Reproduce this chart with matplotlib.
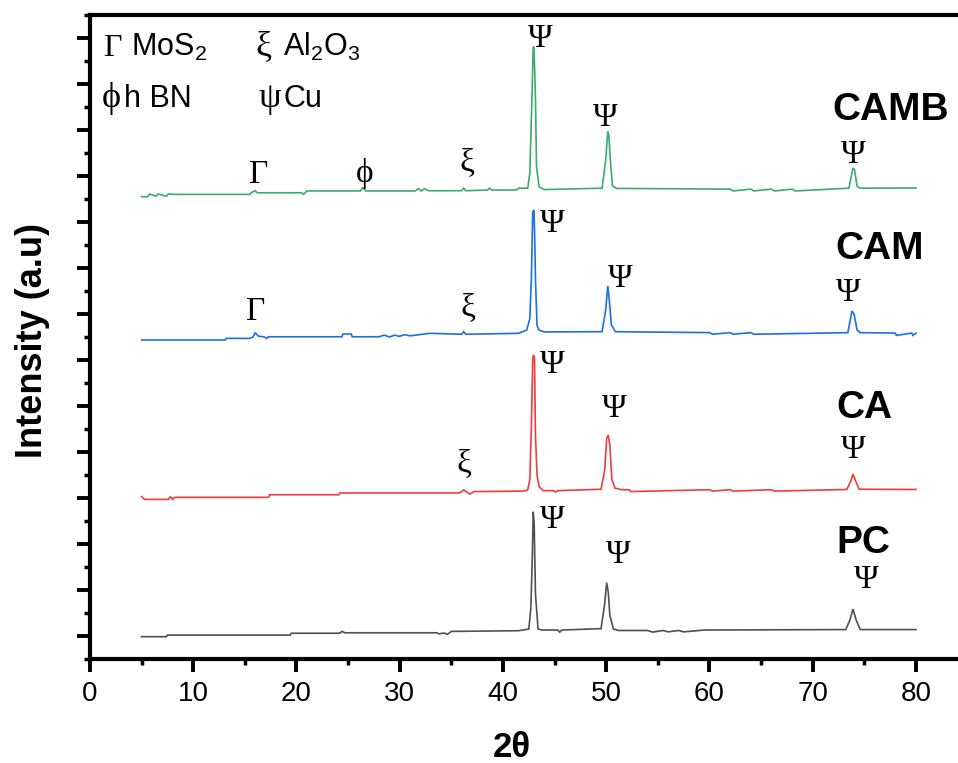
import matplotlib
matplotlib.use("Agg")
import matplotlib.pyplot as plt
import matplotlib.font_manager as fm
from matplotlib.ticker import MultipleLocator, NullFormatter

# ---------------- data (2θ in degrees, intensity in a.u.) ----------------
PC_x = [5.0, 7.4, 7.5, 19.4, 19.5, 24.2, 24.4, 24.7, 33.6, 33.8, 34.3, 34.6, 35.0, 41.5, 42.5,
        42.7, 42.85, 42.93, 43.02, 43.15, 43.4, 43.8, 45.3, 45.5, 45.7, 49.5, 49.85, 50.04, 50.2,
        50.35, 50.7, 51.2, 54.0, 54.5, 55.5, 56.0, 57.0, 57.5, 59.5, 73.2, 73.6, 73.9, 74.2, 74.6, 80.0]
PC_y = [0.97, 0.97, 1.04, 1.04, 1.12, 1.12, 1.20, 1.14, 1.14, 1.09, 1.13, 1.07, 1.20, 1.23, 1.30,
        2.20, 4.60, 6.40, 5.90, 2.80, 1.30, 1.26, 1.26, 1.17, 1.26, 1.32, 2.40, 3.32, 2.90,
        1.90, 1.30, 1.24, 1.24, 1.17, 1.24, 1.18, 1.24, 1.18, 1.26, 1.28, 1.70, 2.17, 1.70, 1.28, 1.28]

CA_x = [5.0, 5.3, 7.6, 7.8, 8.0, 8.2, 17.3, 17.4, 24.1, 24.2, 35.8, 36.2, 36.6, 36.8, 37.2, 42.0,
        42.4, 42.6, 42.75, 42.88, 42.95, 43.05, 43.15, 43.3, 43.5, 43.9, 44.9, 45.1, 45.3, 49.5,
        49.85, 50.05, 50.2, 50.35, 50.55, 50.85, 51.5, 52.2, 52.4, 60.0, 60.3, 62.0, 62.3, 66.0,
        66.3, 73.3, 73.7, 73.9, 74.1, 74.5, 80.0]
CA_y = [7.06, 6.94, 6.94, 7.06, 6.94, 7.03, 7.03, 7.14, 7.14, 7.22, 7.22, 7.35, 7.22, 7.17, 7.28, 7.30,
        7.35, 7.80, 10.1, 13.0, 13.22, 13.1, 9.7, 8.0, 7.49, 7.32, 7.32, 7.26, 7.32, 7.38,
        8.2, 9.6, 9.74, 9.3, 7.8, 7.43, 7.36, 7.36, 7.28, 7.36, 7.30, 7.36, 7.30, 7.36,
        7.30, 7.37, 7.75, 8.04, 7.8, 7.38, 7.37]

CAM_x = [5.0, 13.1, 13.2, 15.5, 15.8, 16.0, 16.3, 16.9, 17.1, 17.3, 24.4, 24.5, 25.3, 25.4, 28.0,
         28.5, 29.0, 29.5, 30.0, 30.5, 31.0, 32.9, 36.0, 36.2, 36.4, 41.5, 42.3, 42.6, 42.75, 42.88,
         43.0, 43.08, 43.15, 43.3, 43.5, 44.0, 49.6, 49.95, 50.15, 50.3, 50.5, 50.9, 60.0, 60.3,
         62.0, 62.3, 64.0, 64.3, 73.4, 73.8, 74.0, 74.3, 74.6, 78.0, 78.1, 79.6, 79.7, 80.0]
CAM_y = [13.87, 13.87, 13.94, 13.94, 14.0, 14.19, 14.04, 14.0, 13.94, 14.01, 14.01, 14.13, 14.13, 14.01, 14.01,
         14.08, 14.0, 14.08, 14.03, 14.1, 14.05, 14.16, 14.12, 14.23, 14.12, 14.16, 14.30, 14.8, 16.48, 19.43,
         19.52, 18.2, 16.48, 14.5, 14.3, 14.22, 14.23, 15.17, 16.22, 15.6, 14.52, 14.23, 14.19, 14.12,
         14.19, 14.12, 14.19, 14.12, 14.19, 15.13, 15.0, 14.3, 14.19, 14.17, 14.07, 14.17, 14.07, 14.17]

CAMB_x = [5.0, 5.6, 5.8, 6.4, 6.6, 7.4, 7.6, 8.2, 15.5, 15.6, 16.0, 16.2, 16.4, 20.5, 20.7, 21.0,
          26.2, 26.4, 26.7, 31.5, 31.8, 32.1, 32.4, 32.8, 36.0, 36.2, 36.4, 38.5, 38.7, 38.9, 41.3,
          41.5, 42.4, 42.6, 42.8, 42.93, 43.0, 43.08, 43.15, 43.25, 43.5, 44.0, 49.6, 49.95, 50.15,
          50.25, 50.4, 50.6, 51.0, 62.0, 62.3, 64.0, 64.3, 66.0, 66.3, 68.0, 68.3, 73.5, 73.9, 74.05,
          74.3, 74.6, 80.0]
CAMB_y = [20.10, 20.10, 20.22, 20.12, 20.22, 20.12, 20.22, 20.20, 20.20, 20.27, 20.36, 20.27, 20.27, 20.27, 20.20, 20.35,
          20.35, 20.50, 20.35, 20.35, 20.45, 20.35, 20.45, 20.36, 20.36, 20.47, 20.36, 20.39, 20.47, 20.39, 20.39,
          20.47, 20.47, 21.13, 24.3, 26.62, 26.6, 25.48, 24.3, 21.4, 20.53, 20.41, 20.47, 21.7, 22.93,
          22.78, 21.7, 20.57, 20.46, 20.43, 20.35, 20.43, 20.35, 20.43, 20.35, 20.43, 20.35, 20.47, 21.35, 21.27,
          20.55, 20.47, 20.48]

sample_names = ["PC", "CA", "CAM", "CAMB"]
x_ticks = [0, 10, 20, 30, 40, 50, 60, 70, 80]

# peak markers: (symbol, x, y) per sample
marks_PC = [("Ψ", 44.78, 5.70), ("Ψ", 51.17, 4.16), ("Ψ", 75.2, 3.09)]
marks_CA = [("ξ", 36.22, 8.15), ("Ψ", 44.78, 12.42), ("Ψ", 50.75, 10.51), ("Ψ", 73.9, 8.74)]
marks_CAM = [("Γ", 16.05, 14.74), ("ξ", 36.64, 14.9), ("Ψ", 44.8, 18.58), ("Ψ", 51.4, 16.19), ("Ψ", 73.4, 15.57)]
marks_CAMB = [("Γ", 16.37, 20.71), ("ϕ", 26.63, 20.75), ("ξ", 36.55, 21.2), ("Ψ", 43.6, 26.62),
              ("Ψ", 49.95, 23.17), ("Ψ", 73.9, 21.57)]

for xs, ys in [(PC_x, PC_y), (CA_x, CA_y), (CAM_x, CAM_y), (CAMB_x, CAMB_y)]:
    assert len(xs) == len(ys)

# ---------------- fonts ----------------
names = {f.name for f in fm.fontManager.ttflist}
SANS = "Liberation Sans" if "Liberation Sans" in names else "DejaVu Sans"
SERIF = "Liberation Serif" if "Liberation Serif" in names else "DejaVu Serif"
NARROW = "Liberation Sans Narrow" if "Liberation Sans Narrow" in names else SANS

plt.rcParams["font.family"] = [SANS, "DejaVu Sans"]
plt.rcParams["mathtext.fontset"] = "custom"
plt.rcParams["mathtext.rm"] = SANS

# ---------------- figure ----------------
fig = plt.figure(figsize=(9.58, 7.63), dpi=100)
ax = fig.add_axes([0.0939, 0.1363, 1 - 0.0939, 0.98034 - 0.1363])

colors = {"PC": "#505050", "CA": "#f03c3c", "CAM": "#1c6fe6", "CAMB": "#3aac6c"}
series = {"PC": (PC_x, PC_y), "CA": (CA_x, CA_y), "CAM": (CAM_x, CAM_y), "CAMB": (CAMB_x, CAMB_y)}
for name in sample_names:
    xs, ys = series[name]
    ax.plot(xs, ys, color=colors[name], lw=1.2, solid_joinstyle="miter")

ax.set_xlim(0, 84.07)
ax.set_ylim(0, 28)

for s in ["left", "bottom", "top"]:
    ax.spines[s].set_linewidth(3)
ax.spines["right"].set_visible(False)

ax.xaxis.set_minor_locator(MultipleLocator(5))
ax.set_xticks(x_ticks)
ax.set_xticklabels([str(t) for t in x_ticks])
ax.set_yticks([1 + 2 * i for i in range(14)])
ax.set_yticks([2 * i for i in range(15)], minor=True)
ax.yaxis.set_major_formatter(NullFormatter())
ax.tick_params(which="major", direction="out", length=9.5, width=2.8, pad=6)
ax.tick_params(which="minor", direction="out", length=4.5, width=2.5)
ax.tick_params(axis="x", labelsize=20)
for lab in ax.get_xticklabels():
    lab.set_family([NARROW, "DejaVu Sans"])

# marks
for marks in [marks_PC, marks_CA, marks_CAM, marks_CAMB]:
    for sym, xv, yv in marks:
        ax.text(xv, yv, sym, family=[SERIF, "DejaVu Serif"], fontsize=24,
                ha="center", va="baseline")

# sample labels
label_pos = {"CAMB": (71.87, 23.43), "CAM": (72.15, 17.39), "CA": (72.25, 10.48), "PC": (72.25, 4.61)}
for name in sample_names:
    xv, yv = label_pos[name]
    ax.text(xv, yv, name, fontsize=28, fontweight="bold", ha="left", va="baseline")

# key (legend of symbols)
key_sym = [("Γ", 1.26, 26.22, 23), ("ξ", 16.0, 26.22, 26), ("ϕ", 1.1, 24.0, 26), ("ψ", 16.3, 24.0, 26)]
key_txt = [(r"MoS$_{\mathregular{2}}$", 3.97, 26.22), (r"Al$_{\mathregular{2}}$O$_{\mathregular{3}}$", 18.69, 26.22),
           ("h BN", 3.3, 24.0), ("Cu", 18.7, 24.0)]
for sym, xv, yv, fs in key_sym:
    ax.text(xv, yv, sym, family=[SERIF, "DejaVu Serif"], fontsize=fs, ha="left", va="baseline")
for txt, xv, yv in key_txt:
    ax.text(xv, yv, txt, fontsize=22, ha="left", va="baseline")

fig.text(33 / 958, 1 - 340 / 763, "Intensity (a.u)", rotation=90, fontsize=26,
         fontweight="bold", ha="center", va="center")
fig.text(512 / 958, 1 - 757 / 763, "2θ", fontsize=25, fontweight="bold",
         family=[NARROW, "DejaVu Sans"], ha="center", va="baseline")

fig.savefig("out.png", dpi=100)
